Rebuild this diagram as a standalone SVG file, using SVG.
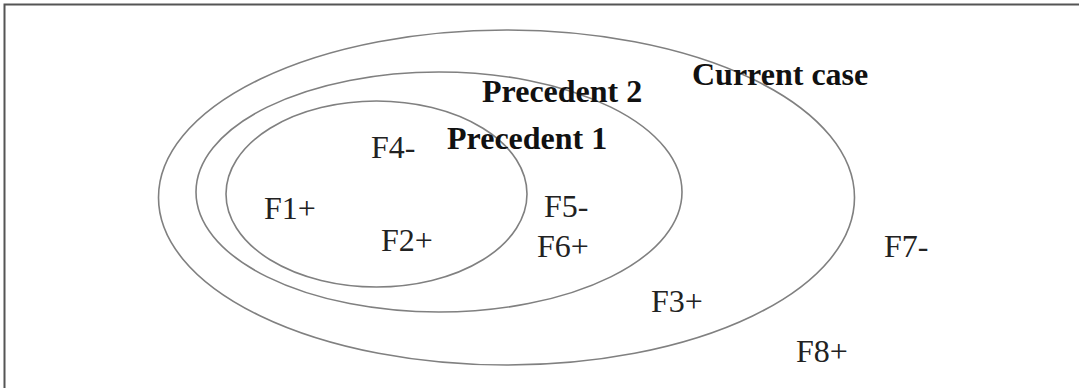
<svg xmlns="http://www.w3.org/2000/svg" width="1079" height="388" viewBox="0 0 1079 388">
<style>
.set{fill:none;stroke:#808080;stroke-width:1.6}
.lbl{font-family:"Liberation Serif","Times New Roman",serif;font-size:32px;font-weight:bold;fill:#111}
.f{font-family:"Liberation Serif","Times New Roman",serif;font-size:32px;fill:#222}
</style>
<rect x="0" y="0" width="1079" height="388" fill="#fff"/>
<path d="M4.5 388 V4.5 H1079" fill="none" stroke="#555" stroke-width="2"/>
<g id="current-case">
<ellipse class="set" cx="506.5" cy="197.5" rx="348" ry="167.5"/>
<text class="lbl" x="692" y="85">Current case</text>
</g>
<g id="precedent-2">
<ellipse class="set" cx="439" cy="192" rx="243" ry="120"/>
<text class="lbl" x="482" y="102">Precedent 2</text>
</g>
<g id="precedent-1">
<ellipse class="set" cx="376.5" cy="194" rx="150.5" ry="93"/>
<text class="lbl" x="447" y="149">Precedent 1</text>
</g>
<g id="factors">
<text class="f" x="371" y="158">F4-</text>
<text class="f" x="264" y="219">F1+</text>
<text class="f" x="381" y="251">F2+</text>
<text class="f" x="544" y="217">F5-</text>
<text class="f" x="537" y="257">F6+</text>
<text class="f" x="651" y="312">F3+</text>
<text class="f" x="884" y="257">F7-</text>
<text class="f" x="796" y="362">F8+</text>
</g>
<g id="connectors"></g>
</svg>
